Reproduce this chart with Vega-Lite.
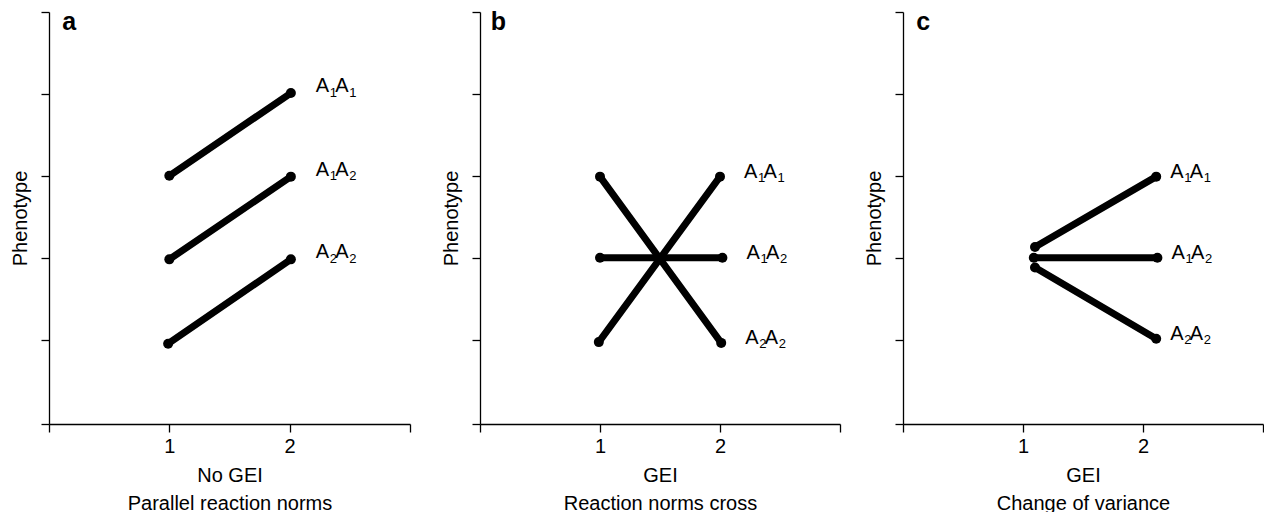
{
  "$schema": "https://vega.github.io/schema/vega-lite/v6.json",
  "background": "white",
  "padding": {"left": 10, "top": 10, "right": 0, "bottom": 0},
  "config": {
    "view": {"stroke": null},
    "font": "Liberation Sans",
    "axis": {
      "grid": false,
      "domainColor": "black",
      "domainWidth": 1.3,
      "tickColor": "black",
      "tickWidth": 1.3,
      "tickSize": 8,
      "labelFont": "Liberation Sans",
      "labelFontSize": 20,
      "labelColor": "black",
      "labelPadding": 4,
      "titleFont": "Liberation Sans",
      "titleFontSize": 20,
      "titleFontWeight": "normal",
      "titleColor": "black"
    },
    "text": {"font": "Liberation Sans", "color": "black"}
  },
  "datasets": {
    "norms": [
      {"panel": "a", "genotype": "A1A1", "allele1": "1", "allele2": "1", "env": 1.0, "pheno": 3.0},
      {"panel": "a", "genotype": "A1A1", "allele1": "1", "allele2": "1", "env": 2.01, "pheno": 4.01},
      {"panel": "a", "genotype": "A1A2", "allele1": "1", "allele2": "2", "env": 1.0, "pheno": 1.98},
      {"panel": "a", "genotype": "A1A2", "allele1": "1", "allele2": "2", "env": 2.01, "pheno": 2.99},
      {"panel": "a", "genotype": "A2A2", "allele1": "2", "allele2": "2", "env": 0.99, "pheno": 0.95},
      {"panel": "a", "genotype": "A2A2", "allele1": "2", "allele2": "2", "env": 2.01, "pheno": 1.98},
      {"panel": "b", "genotype": "A1A1", "allele1": "1", "allele2": "1", "env": 0.99, "pheno": 0.97},
      {"panel": "b", "genotype": "A1A1", "allele1": "1", "allele2": "1", "env": 2.0, "pheno": 2.99},
      {"panel": "b", "genotype": "A1A2", "allele1": "1", "allele2": "2", "env": 1.0, "pheno": 2.0},
      {"panel": "b", "genotype": "A1A2", "allele1": "1", "allele2": "2", "env": 2.02, "pheno": 2.0},
      {"panel": "b", "genotype": "A2A2", "allele1": "2", "allele2": "2", "env": 1.0, "pheno": 2.99},
      {"panel": "b", "genotype": "A2A2", "allele1": "2", "allele2": "2", "env": 2.01, "pheno": 0.96},
      {"panel": "c", "genotype": "A1A1", "allele1": "1", "allele2": "1", "env": 1.1, "pheno": 2.13},
      {"panel": "c", "genotype": "A1A1", "allele1": "1", "allele2": "1", "env": 2.11, "pheno": 2.99},
      {"panel": "c", "genotype": "A1A2", "allele1": "1", "allele2": "2", "env": 1.09, "pheno": 2.0},
      {"panel": "c", "genotype": "A1A2", "allele1": "1", "allele2": "2", "env": 2.12, "pheno": 2.0},
      {"panel": "c", "genotype": "A2A2", "allele1": "2", "allele2": "2", "env": 1.1, "pheno": 1.88},
      {"panel": "c", "genotype": "A2A2", "allele1": "2", "allele2": "2", "env": 2.11, "pheno": 1.01}
    ]
  },
  "bounds": "flush",
  "spacing": 70,
  "hconcat": [
    {
      "width": 361,
      "height": 412,
      "data": {"name": "norms"},
      "transform": [{"filter": "datum.panel == 'a'"}],
      "encoding": {
        "x": {"field": "env", "type": "quantitative", "scale": {"domain": [0, 3], "nice": false, "zero": false},
          "axis": {"values": [0, 1, 2, 3], "labelExpr": "datum.value == 1 || datum.value == 2 ? datum.label : ''", "title": ["No GEI", "Parallel reaction norms"], "titleLineHeight": 28, "titlePadding": 9}},
        "y": {"field": "pheno", "type": "quantitative", "scale": {"domain": [-0.03, 5], "nice": false, "zero": false},
          "axis": {"values": [-0.03, 1, 2, 3, 4, 5], "labels": false, "title": "Phenotype", "titlePadding": 10}}
      },
      "layer": [
        {"mark": {"type": "line", "color": "black", "strokeWidth": 7, "strokeCap": "round"}, "encoding": {"detail": {"field": "genotype"}}},
        {"mark": {"type": "circle", "color": "black", "opacity": 1, "size": 100}},
        {"transform": [{"filter": "datum.env > 1.5"}], "mark": {"type": "text", "align": "left", "baseline": "alphabetic", "dx": 25, "dy": -1, "fontSize": 20, "text": "A"}},
        {"transform": [{"filter": "datum.env > 1.5"}], "mark": {"type": "text", "align": "left", "baseline": "alphabetic", "dx": 39, "dy": 3.5, "fontSize": 13}, "encoding": {"text": {"field": "allele1"}}},
        {"transform": [{"filter": "datum.env > 1.5"}], "mark": {"type": "text", "align": "left", "baseline": "alphabetic", "dx": 44.5, "dy": -1, "fontSize": 20, "text": "A"}},
        {"transform": [{"filter": "datum.env > 1.5"}], "mark": {"type": "text", "align": "left", "baseline": "alphabetic", "dx": 58.5, "dy": 3.5, "fontSize": 13}, "encoding": {"text": {"field": "allele2"}}},
        {"transform": [{"filter": "datum.genotype == 'A1A2' && datum.env < 1.5"}], "mark": {"type": "text", "align": "left", "baseline": "alphabetic", "fontSize": 25, "fontWeight": "bold"}, "encoding": {"x": {"datum": 0.11}, "y": {"datum": 4.78}, "text": {"field": "panel"}}}
      ]
    },
    {
      "bounds": "flush",
      "spacing": 63,
      "hconcat": [
        {
          "width": 360,
          "height": 412,
          "data": {"name": "norms"},
          "transform": [{"filter": "datum.panel == 'b'"}],
          "encoding": {
            "x": {"field": "env", "type": "quantitative", "scale": {"domain": [0, 3], "nice": false, "zero": false},
              "axis": {"values": [0, 1, 2, 3], "labelExpr": "datum.value == 1 || datum.value == 2 ? datum.label : ''", "title": ["GEI", "Reaction norms cross"], "titleLineHeight": 28, "titlePadding": 9}},
            "y": {"field": "pheno", "type": "quantitative", "scale": {"domain": [-0.03, 5], "nice": false, "zero": false},
              "axis": {"values": [-0.03, 1, 2, 3, 4, 5], "labels": false, "title": "Phenotype", "titlePadding": 10}}
          },
          "layer": [
            {"mark": {"type": "line", "color": "black", "strokeWidth": 7, "strokeCap": "round"}, "encoding": {"detail": {"field": "genotype"}}},
            {"mark": {"type": "circle", "color": "black", "opacity": 1, "size": 100}},
            {"transform": [{"filter": "datum.env > 1.5"}], "mark": {"type": "text", "align": "left", "baseline": "alphabetic", "dx": 24, "dy": 1, "fontSize": 20, "text": "A"}},
            {"transform": [{"filter": "datum.env > 1.5"}], "mark": {"type": "text", "align": "left", "baseline": "alphabetic", "dx": 38, "dy": 5.5, "fontSize": 13}, "encoding": {"text": {"field": "allele1"}}},
            {"transform": [{"filter": "datum.env > 1.5"}], "mark": {"type": "text", "align": "left", "baseline": "alphabetic", "dx": 43.5, "dy": 1, "fontSize": 20, "text": "A"}},
            {"transform": [{"filter": "datum.env > 1.5"}], "mark": {"type": "text", "align": "left", "baseline": "alphabetic", "dx": 57.5, "dy": 5.5, "fontSize": 13}, "encoding": {"text": {"field": "allele2"}}},
            {"transform": [{"filter": "datum.genotype == 'A1A2' && datum.env < 1.5"}], "mark": {"type": "text", "align": "left", "baseline": "alphabetic", "fontSize": 25, "fontWeight": "bold"}, "encoding": {"x": {"datum": 0.09}, "y": {"datum": 4.78}, "text": {"field": "panel"}}}
          ]
        },
        {
          "width": 360,
          "height": 412,
          "data": {"name": "norms"},
          "transform": [{"filter": "datum.panel == 'c'"}],
          "encoding": {
            "x": {"field": "env", "type": "quantitative", "scale": {"domain": [0, 3], "nice": false, "zero": false},
              "axis": {"values": [0, 1, 2, 3], "labelExpr": "datum.value == 1 || datum.value == 2 ? datum.label : ''", "title": ["GEI", "Change of variance"], "titleLineHeight": 28, "titlePadding": 9}},
            "y": {"field": "pheno", "type": "quantitative", "scale": {"domain": [-0.03, 5], "nice": false, "zero": false},
              "axis": {"values": [-0.03, 1, 2, 3, 4, 5], "labels": false, "title": "Phenotype", "titlePadding": 10}}
          },
          "layer": [
            {"mark": {"type": "line", "color": "black", "strokeWidth": 7, "strokeCap": "round"}, "encoding": {"detail": {"field": "genotype"}}},
            {"mark": {"type": "circle", "color": "black", "opacity": 1, "size": 100}},
            {"transform": [{"filter": "datum.env > 1.5"}], "mark": {"type": "text", "align": "left", "baseline": "alphabetic", "dx": 14, "dy": 1, "fontSize": 20, "text": "A"}},
            {"transform": [{"filter": "datum.env > 1.5"}], "mark": {"type": "text", "align": "left", "baseline": "alphabetic", "dx": 28, "dy": 5.5, "fontSize": 13}, "encoding": {"text": {"field": "allele1"}}},
            {"transform": [{"filter": "datum.env > 1.5"}], "mark": {"type": "text", "align": "left", "baseline": "alphabetic", "dx": 33.5, "dy": 1, "fontSize": 20, "text": "A"}},
            {"transform": [{"filter": "datum.env > 1.5"}], "mark": {"type": "text", "align": "left", "baseline": "alphabetic", "dx": 47.5, "dy": 5.5, "fontSize": 13}, "encoding": {"text": {"field": "allele2"}}},
            {"transform": [{"filter": "datum.genotype == 'A1A2' && datum.env < 1.5"}], "mark": {"type": "text", "align": "left", "baseline": "alphabetic", "fontSize": 25, "fontWeight": "bold"}, "encoding": {"x": {"datum": 0.11}, "y": {"datum": 4.78}, "text": {"field": "panel"}}}
          ]
        }
      ]
    }
  ]
}
